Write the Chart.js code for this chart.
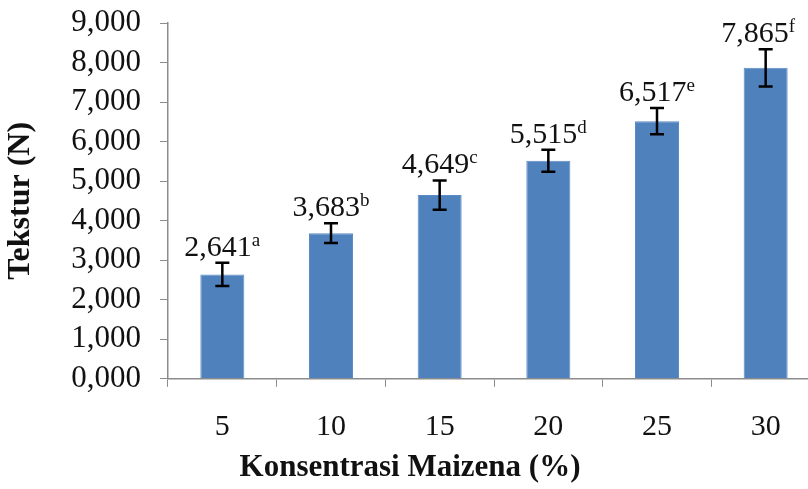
<!DOCTYPE html>
<html>
<head>
<meta charset="utf-8">
<script src="https://cdn.jsdelivr.net/npm/chart.js@4.4.1/dist/chart.umd.min.js"></script>
<style>
  html, body { margin: 0; padding: 0; background: #fff; overflow: hidden; }
  #wrap { width: 820px; height: 489px; }
</style>
</head>
<body>
<div id="wrap"><canvas id="myChart"></canvas></div>
<script>
// data
const kategori = ['5', '10', '15', '20', '25', '30'];
const tekstur = [2.641, 3.683, 4.649, 5.515, 6.517, 7.865];
const galat = [0.295, 0.25, 0.37, 0.28, 0.33, 0.47];
const notasi = ['a', 'b', 'c', 'd', 'e', 'f'];
const labelSumbuY = ['0,000', '1,000', '2,000', '3,000', '4,000', '5,000', '6,000', '7,000', '8,000', '9,000'];

const serif = 'Liberation Serif, Times New Roman, serif';

// garis galat + label nilai dengan huruf notasi (superscript)
const errorBarPlugin = {
    id: 'errorBars',
    afterDatasetsDraw(chart) {
        const ctx = chart.ctx;
        const meta = chart.getDatasetMeta(0);
        const y = chart.scales.y;
        ctx.save();
        meta.data.forEach((bar, i) => {
            const x = bar.x;
            const top = y.getPixelForValue(tekstur[i] + galat[i]);
            const bottom = y.getPixelForValue(tekstur[i] - galat[i]);
            ctx.strokeStyle = '#000';
            ctx.lineWidth = 2.5;
            ctx.beginPath();
            ctx.moveTo(x, top);
            ctx.lineTo(x, bottom);
            ctx.moveTo(x - 7, top);
            ctx.lineTo(x + 7, top);
            ctx.moveTo(x - 7, bottom);
            ctx.lineTo(x + 7, bottom);
            ctx.stroke();

            const teks = tekstur[i].toFixed(3).replace('.', ',');
            ctx.font = '30px ' + serif;
            const w1 = ctx.measureText(teks).width;
            ctx.font = '19px ' + serif;
            const w2 = ctx.measureText(notasi[i]).width;
            let x0 = x - (w1 + w2) / 2;
            if (x0 + w1 + w2 > 795) x0 = 795 - w1 - w2;
            const base = top - 7;
            ctx.fillStyle = '#111';
            ctx.textAlign = 'left';
            ctx.textBaseline = 'alphabetic';
            ctx.font = '30px ' + serif;
            ctx.fillText(teks, x0, base);
            ctx.font = '19px ' + serif;
            ctx.fillText(notasi[i], x0 + w1, base - 10);
        });
        ctx.restore();
    }
};

const ctx = document.getElementById('myChart').getContext('2d');
const chart = new Chart(ctx, {
    type: 'bar',
    data: {
        labels: kategori,
        datasets: [{
            data: tekstur,
            backgroundColor: '#4F81BD',
            borderColor: '#5A8CC8',
            borderWidth: 1,
            barPercentage: 0.405,
            categoryPercentage: 1
        }]
    },
    options: {
        responsive: true,
        maintainAspectRatio: false,
        animation: false,
        layout: { padding: { top: 23, left: 0, right: 0, bottom: 0 } },
        plugins: {
            legend: { display: false },
            tooltip: { enabled: false },
            title: {
                display: true,
                position: 'bottom',
                text: 'Konsentrasi Maizena (%)',
                color: '#111',
                font: { family: serif, size: 31, weight: 'bold' },
                padding: { top: 0, bottom: 2 }
            }
        },
        scales: {
            x: {
                grid: {
                    display: true,
                    offset: true,
                    drawOnChartArea: false,
                    tickLength: 8,
                    color: '#8c8c8c'
                },
                border: { color: '#8c8c8c', width: 1.5 },
                ticks: {
                    color: '#111',
                    padding: 22,
                    font: { family: serif, size: 30 }
                },
                afterFit(scale) { scale.height = 71; }
            },
            y: {
                min: 0,
                max: 9,
                grid: {
                    display: true,
                    drawOnChartArea: false,
                    tickLength: 8,
                    color: '#8c8c8c'
                },
                border: { color: '#8c8c8c', width: 1.5 },
                ticks: {
                    stepSize: 1,
                    autoSkip: false,
                    color: '#111',
                    padding: 19,
                    font: { family: serif, size: 31 },
                    callback: (v, i) => labelSumbuY[i]
                },
                title: {
                    display: true,
                    text: 'Tekstur (N)',
                    color: '#111',
                    font: { family: serif, size: 32, weight: 'bold' },
                    padding: { top: 2, bottom: 0 }
                },
                afterFit(scale) {
                    scale.width = 168;
                    scale.paddingTop = 0;
                    scale.paddingBottom = 0;
                }
            }
        }
    },
    plugins: [errorBarPlugin]
});
</script>
</body>
</html>
